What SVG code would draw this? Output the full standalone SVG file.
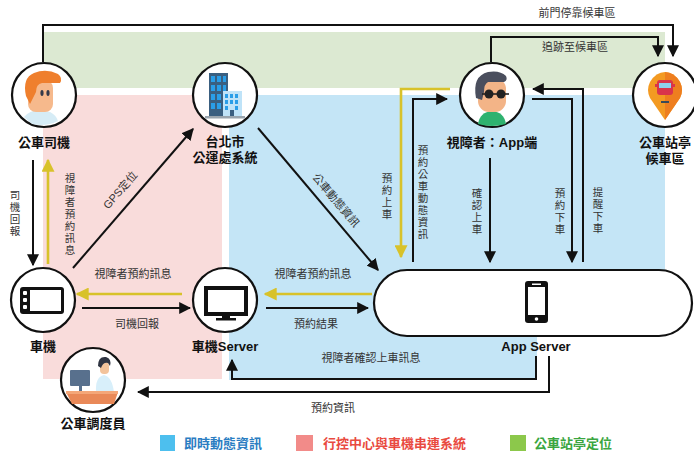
<svg xmlns="http://www.w3.org/2000/svg" width="694" height="452" viewBox="0 0 694 452">
  <style>
    text { font-family: "Liberation Sans", "Noto Sans CJK TC", sans-serif; }
    .title { font-size: 13px; font-weight: bold; fill: #111; text-anchor: middle; }
    .lbl { font-size: 11px; fill: #333; text-anchor: middle; }
    .vl { font-size: 10.5px; fill: #333; text-anchor: middle; }
    .ring { fill: #fff; stroke: #111; stroke-width: 2.2; }
    .ln { fill: none; stroke: #111; stroke-width: 2; }
    .yl { fill: none; stroke: #d8c22a; stroke-width: 2.6; }
    .leg { font-size: 13px; font-weight: bold; }
  </style>
  <defs>
    <marker id="ah" markerUnits="userSpaceOnUse" markerWidth="12" markerHeight="12" viewBox="0 0 10 10" refX="9" refY="5" orient="auto">
      <path d="M0,0 L10,5 L0,10 z" fill="#111"/>
    </marker>
    <marker id="ahy" markerUnits="userSpaceOnUse" markerWidth="13" markerHeight="13" viewBox="0 0 10 10" refX="9" refY="5" orient="auto">
      <path d="M0,0 L10,5 L0,10 z" fill="#d8c22a"/>
    </marker>
  </defs>

  <!-- zone backgrounds -->
  <g id="zones">
    <rect x="43" y="32" width="622" height="56" fill="#dce9d2"/>
    <rect x="43" y="95" width="179" height="284" fill="#f9dcdb"/>
    <path d="M229,95 H665 V320 H537 V380 H229 Z" fill="#c4e5f6"/>
  </g>

  <!-- connectors -->
  <g id="connectors">
    <path class="ln" d="M43,62 V25 H673 V56" marker-end="url(#ah)"/>
    <path class="ln" d="M491,62 V37 H658 V56" marker-end="url(#ah)"/>
    <path class="ln" d="M33,160 V265" marker-end="url(#ah)"/>
    <path class="yl" d="M48,264 V160" marker-end="url(#ahy)"/>
    <path class="ln" d="M73,268 L193,129" marker-end="url(#ah)"/>
    <path class="ln" d="M258,128 L378,270" marker-end="url(#ah)"/>
    <path class="yl" d="M182,294 H77" marker-end="url(#ahy)"/>
    <path class="ln" d="M82,308 H190" marker-end="url(#ah)"/>
    <path class="yl" d="M372,294 H265" marker-end="url(#ahy)"/>
    <path class="ln" d="M266,308 H368" marker-end="url(#ah)"/>
    <path class="ln" d="M536,356 V379 H232 V360" marker-end="url(#ah)"/>
    <path class="ln" d="M549,356 V392 H138" marker-end="url(#ah)"/>
    <path class="yl" d="M450,89 H401 V257" marker-end="url(#ahy)"/>
    <path class="ln" d="M413,262 V99 H447" marker-end="url(#ah)"/>
    <path class="ln" d="M490,158 V262" marker-end="url(#ah)"/>
    <path class="ln" d="M532,99 H572 V262" marker-end="url(#ah)"/>
    <path class="ln" d="M583,262 V89 H533" marker-end="url(#ah)"/>

    <text class="lbl" x="577" y="17">前門停靠候車區</text>
    <text class="lbl" x="575" y="51">追跡至候車區</text>
    <text class="vl"><tspan x="15" y="199">司</tspan><tspan x="15" y="211">機</tspan><tspan x="15" y="223">回</tspan><tspan x="15" y="235">報</tspan></text>
    <text class="vl"><tspan x="70" y="182">視</tspan><tspan x="70" y="194">障</tspan><tspan x="70" y="206">者</tspan><tspan x="70" y="218">預</tspan><tspan x="70" y="230">約</tspan><tspan x="70" y="242">訊</tspan><tspan x="70" y="254">息</tspan></text>
    <text class="lbl" transform="translate(120,190) rotate(-49)" x="0" y="4">GPS定位</text>
    <text class="lbl" transform="translate(336,200) rotate(49.8)" x="0" y="4">公車動態資訊</text>
    <text class="lbl" x="133" y="278">視障者預約訊息</text>
    <text class="lbl" x="137" y="328">司機回報</text>
    <text class="lbl" x="313" y="278">視障者預約訊息</text>
    <text class="lbl" x="316" y="328">預約結果</text>
    <text class="lbl" x="371" y="362">視障者確認上車訊息</text>
    <text class="lbl" x="333" y="412">預約資訊</text>
    <text class="vl"><tspan x="387" y="182">預</tspan><tspan x="387" y="194">約</tspan><tspan x="387" y="206">上</tspan><tspan x="387" y="218">車</tspan></text>
    <text class="vl"><tspan x="423" y="154">預</tspan><tspan x="423" y="166">約</tspan><tspan x="423" y="178">公</tspan><tspan x="423" y="190">車</tspan><tspan x="423" y="202">動</tspan><tspan x="423" y="214">態</tspan><tspan x="423" y="226">資</tspan><tspan x="423" y="238">訊</tspan></text>
    <text class="vl"><tspan x="477" y="197">確</tspan><tspan x="477" y="209">認</tspan><tspan x="477" y="221">上</tspan><tspan x="477" y="233">車</tspan></text>
    <text class="vl"><tspan x="560" y="197">預</tspan><tspan x="560" y="209">約</tspan><tspan x="560" y="221">下</tspan><tspan x="560" y="233">車</tspan></text>
    <text class="vl"><tspan x="598" y="196">提</tspan><tspan x="598" y="208">醒</tspan><tspan x="598" y="220">下</tspan><tspan x="598" y="232">車</tspan></text>
  </g>

  <!-- bus driver -->
  <g id="driver">
    <circle class="ring" cx="44" cy="95" r="32"/>
    <path d="M24,117 Q30,110 40,110 L50,112 Q56,115 58,121 Q46,127 32,124 Z" fill="#d6ecf6"/>
    <rect x="28" y="80" width="25" height="32" rx="8" fill="#f6b98c"/>
    <path d="M26,96 Q22,78 34,73 Q46,68 58,74 Q63,78 60,83 L42,83 Q36,84 36,92 L30,104 Z" fill="#ef7f2d"/>
    <ellipse cx="42" cy="93" rx="1.6" ry="3" fill="#333a4a"/>
    <ellipse cx="48" cy="93" rx="1.6" ry="3" fill="#333a4a"/>
    <text class="title" x="44" y="147">公車司機</text>
  </g>

  <!-- city transit office -->
  <g id="taipei">
    <circle class="ring" cx="225" cy="95" r="32"/>
    <rect x="209" y="73" width="19" height="44" fill="#3a5f80"/>
    <g fill="#2a9ee8">
      <rect x="211" y="76" width="4" height="6"/><rect x="217" y="76" width="4" height="6"/><rect x="223" y="76" width="3" height="6"/>
      <rect x="211" y="85" width="4" height="6"/><rect x="217" y="85" width="4" height="6"/><rect x="223" y="85" width="3" height="6"/>
      <rect x="211" y="94" width="4" height="6"/><rect x="217" y="94" width="4" height="6"/>
      <rect x="211" y="103" width="4" height="6"/><rect x="217" y="103" width="4" height="6"/>
    </g>
    <rect x="223" y="91" width="19" height="26" fill="#bfe3f8"/>
    <g fill="#2a9ee8">
      <rect x="225" y="94" width="3" height="4"/><rect x="230" y="94" width="3" height="4"/><rect x="235" y="94" width="3" height="4"/>
      <rect x="225" y="100" width="3" height="4"/><rect x="230" y="100" width="3" height="4"/><rect x="235" y="100" width="3" height="4"/>
      <rect x="225" y="106" width="3" height="4"/><rect x="235" y="106" width="3" height="4"/>
    </g>
    <rect x="230" y="110" width="4" height="7" fill="#3a5f80"/>
    <rect x="205" y="116" width="40" height="2.5" fill="#9aa5ae"/>
    <text class="title" x="225" y="146">台北市</text>
    <text class="title" x="225" y="162">公運處系統</text>
  </g>

  <!-- rider app -->
  <g id="rider">
    <circle class="ring" cx="492" cy="95" r="32"/>
    <path d="M478,124 Q480,112 492,111 Q504,112 506,124 Q492,128 478,124 Z" fill="#2eb26f"/>
    <rect x="478" y="78" width="28" height="34" rx="11" fill="#f3b487"/>
    <path d="M476,98 Q472,76 488,72 Q500,70 506,76 Q508,80 504,82 L488,82 Q484,84 484,92 L482,100 Z" fill="#4a4e5d"/>
    <circle cx="489" cy="94" r="4.5" fill="#222"/>
    <circle cx="501" cy="94" r="4.5" fill="#222"/>
    <path d="M482,94 H509" stroke="#222" stroke-width="1.6"/>
    <text class="title" x="492" y="147">視障者：App端</text>
  </g>

  <!-- bus stop -->
  <g id="busstop">
    <circle class="ring" cx="665" cy="95" r="32"/>
    <path d="M665,120 L650,98 Q646,90 650,82 Q656,72 665,72 Q674,72 680,82 Q684,90 680,98 Z" fill="#f39a22"/>
    <path d="M665,72 Q674,72 680,82 Q684,90 680,98 L665,120 Z" fill="#ee7e1f"/>
    <rect x="657" y="80" width="16" height="15" rx="3" fill="#d9344b"/>
    <rect x="659" y="83" width="12" height="5" fill="#8fd0ec"/>
    <rect x="655" y="84" width="2" height="3" fill="#d9344b"/>
    <rect x="673" y="84" width="2" height="3" fill="#d9344b"/>
    <rect x="661" y="101" width="8" height="2" fill="#3a4a5a"/>
    <text class="title" x="665" y="147">公車站亭</text>
    <text class="title" x="665" y="163">候車區</text>
  </g>

  <!-- in-vehicle unit -->
  <g id="onboard">
    <circle class="ring" cx="43" cy="300" r="32"/>
    <rect x="20" y="287" width="44" height="27" rx="3" fill="#111"/>
    <rect x="30" y="290" width="31" height="21" fill="#fff"/>
    <rect x="23" y="291" width="4" height="4" rx="1" fill="#fff"/>
    <rect x="23" y="298" width="4" height="4" rx="1" fill="#fff"/>
    <rect x="23" y="305" width="4" height="4" rx="1" fill="#fff"/>
    <text class="title" x="43" y="351">車機</text>
  </g>

  <!-- onboard server -->
  <g id="onboardServer">
    <circle class="ring" cx="225" cy="300" r="32"/>
    <rect x="204" y="286" width="44" height="30" fill="#111"/>
    <rect x="208" y="290" width="36" height="22" fill="#fff"/>
    <rect x="222" y="316" width="8" height="3" fill="#111"/>
    <rect x="216" y="318" width="20" height="2.5" fill="#111"/>
    <text class="title" x="225" y="351">車機Server</text>
  </g>

  <!-- dispatcher -->
  <g id="dispatcher">
    <circle class="ring" cx="93" cy="380" r="32"/>
    <rect x="70" y="370" width="20" height="16" rx="1" fill="#58708d"/>
    <rect x="79" y="386" width="3" height="6" fill="#58708d"/>
    <path d="M96,392 Q95,377 104,375 Q112,377 114,392 Z" fill="#d8effa"/>
    <rect x="100" y="362" width="9" height="12" rx="4" fill="#f3c39b"/>
    <path d="M98,366 Q98,356 106,357 Q112,359 110,366 L108,363 Q103,362 101,368 Z" fill="#2f3442"/>
    <path d="M66,392 H118 L114,404 H72 Z" fill="#e98958"/>
    <rect x="66" y="391" width="52" height="3" fill="#f4a779"/>
    <text class="title" x="93" y="428">公車調度員</text>
  </g>

  <!-- application server -->
  <g id="appServer">
    <rect class="ring" x="374" y="270" width="318" height="66" rx="33"/>
    <rect x="525" y="281" width="23" height="42" rx="3" fill="#111"/>
    <rect x="528" y="287" width="17" height="28" fill="#fff"/>
    <rect x="532" y="283.5" width="9" height="1.5" fill="#fff"/>
    <circle cx="536.5" cy="319" r="1.8" fill="#fff"/>
    <text class="title" x="536" y="351">App Server</text>
  </g>

  <!-- legend -->
  <g id="legend">
    <rect x="160" y="435" width="15" height="16" fill="#4dbfee"/>
    <text class="leg" x="184" y="448" fill="#2a7dc2">即時動態資訊</text>
    <rect x="296" y="435" width="17" height="16" fill="#f28b89"/>
    <text class="leg" x="323" y="448" fill="#e94a40">行控中心與車機串連系統</text>
    <rect x="510" y="435" width="16" height="16" fill="#8cc84b"/>
    <text class="leg" x="534" y="448" fill="#3aa640">公車站亭定位</text>
  </g>
</svg>
